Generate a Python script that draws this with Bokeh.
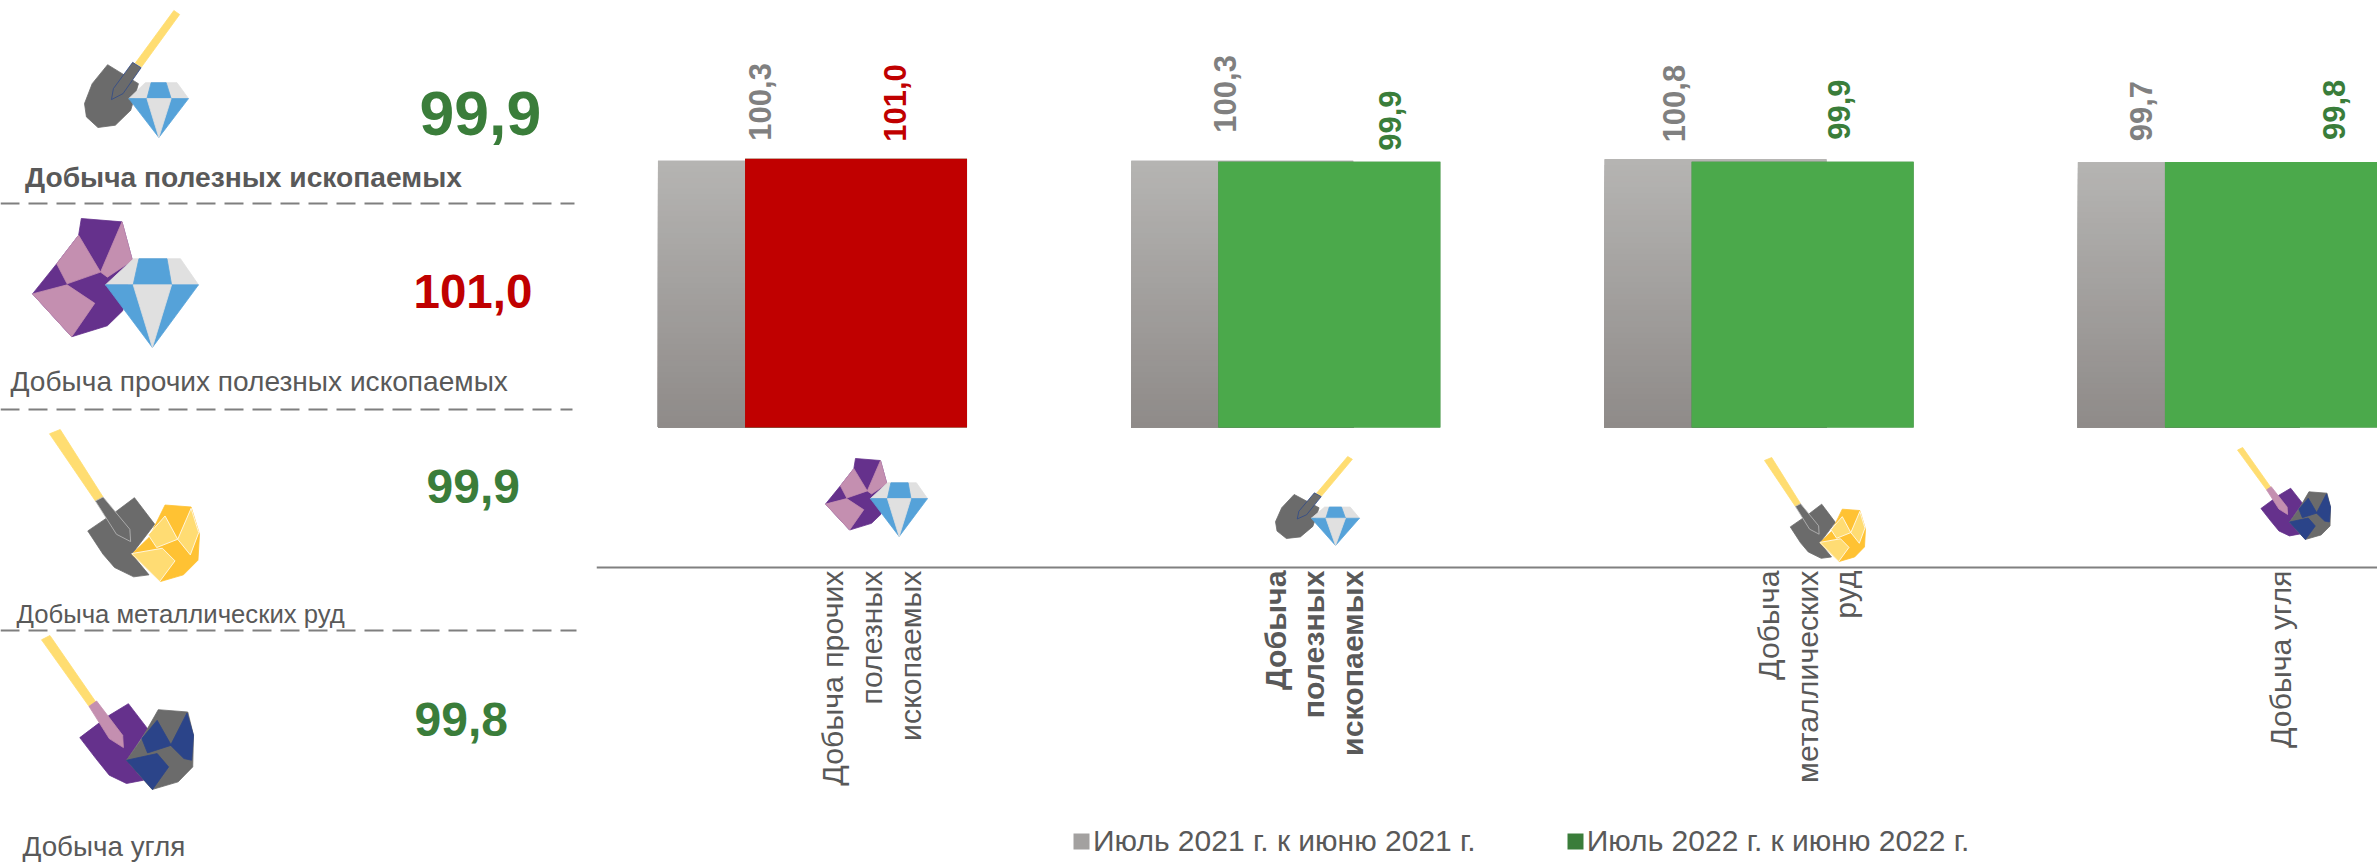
from bokeh.core.properties import value
from bokeh.embed import file_html
from bokeh.layouts import row
from bokeh.models import ColumnDataSource, FixedTicker, Legend, LegendItem, LinearAxis, Range1d
from bokeh.plotting import figure
from bokeh.resources import INLINE
import numpy as np

# ---------- data ----------
categories = ["Добыча прочих\nполезных\nископаемых", "Добыча\nполезных\nископаемых",
              "Добыча\nметаллических\nруд", "Добыча угля"]
july_2021 = [100.3, 100.3, 100.8, 99.7]
july_2022 = [101.0, 99.9, 99.9, 99.8]
series_names = ["Июль 2021 г. к июню 2021 г.", "Июль 2022 г. к июню 2022 г."]
panel_names = ["Добыча полезных ископаемых", "Добыча прочих полезных ископаемых",
               "Добыча металлических руд", "Добыча угля"]
panel_values = [99.9, 101.0, 99.9, 99.8]

# ---------- style ----------
FONT = value("Liberation Sans")
GREEN_BAR, GREEN_TXT, RED = "#4BA94B", "#3A7D3A", "#C00000"
GREY_TXT, DARK_TXT = "#808080", "#595959"
fmt = lambda v: f"{v:.1f}".replace(".", ",")
col = lambda v: RED if v > 100 else GREEN_TXT

W_PANEL, W_CHART, H = 596, 1781, 862
PX0, PX_STEP = 812.0, 473.3
UNIT = 2.66
BASE = 427.0

# ---------- icon shapes (drawn in picture pixels) ----------
HANDLE, STEEL, LBL, LGR = "#FFDD71", "#6B6B6B", "#55A2D9", "#E0E0E0"
PUR, PNK, GLD, LGD, NVY = "#65318C", "#C48FB0", "#FFC233", "#FFDC73", "#2B4489"

ICON_A = [
    (HANDLE, [(452, 30), (467, 42), (368, 200), (352, 188)], None),
    (STEEL, [(280, 193), (360, 250), (340, 330), (300, 375), (255, 382), (225, 350), (220, 310), (240, 250)], None),
    (STEEL, [(345, 186), (367, 202), (320, 280), (290, 298), (295, 265)], "#2F4A8A"),
    (LGR, [(378, 247), (460, 247), (490, 295), (335, 295)], None),
    (LBL, [(393, 247), (432, 247), (445, 295), (382, 295)], None),
    (LBL, [(335, 295), (490, 295), (413, 412)], None),
    (LGR, [(382, 295), (445, 295), (413, 412)], None),
]
ICON_B = [
    (PUR, [(212, 655), (318, 665), (345, 780), (320, 930), (280, 975), (187, 1008), (85, 880), (148, 790), (205, 705)], None),
    (PNK, [(318, 665), (345, 780), (280, 830), (262, 815)], None),
    (PNK, [(205, 705), (262, 815), (175, 850), (148, 790)], None),
    (PNK, [(85, 880), (175, 853), (247, 908), (187, 1008)], None),
    (LGR, [(348, 775), (470, 775), (517, 853), (275, 853)], None),
    (LBL, [(362, 775), (435, 775), (447, 853), (347, 853)], None),
    (LBL, [(275, 853), (517, 853), (397, 1040)], None),
    (LGR, [(347, 853), (447, 853), (397, 1040)], None),
]
ICON_C = [
    (HANDLE, [(130, 8), (158, -5), (270, 198), (250, 210)], None),
    (STEEL, [(352, 200), (405, 280), (345, 370), (390, 432), (350, 438), (300, 410), (270, 370), (230, 300), (300, 245)], None),
    (STEEL, [(250, 210), (270, 198), (340, 295), (342, 332), (305, 310)], "#BBBBBB"),
    (GLD, [(432, 222), (500, 228), (522, 310), (518, 388), (480, 432), (420, 452), (345, 370), (390, 320)], None),
    (LGD, [(432, 255), (465, 325), (410, 350), (388, 312)], "#FFFFFF"),
    (LGD, [(500, 232), (520, 305), (498, 372), (465, 325)], "#FFFFFF"),
    (LGD, [(345, 368), (425, 352), (458, 390), (418, 452)], "#FFFFFF"),
]
ICON_D = [
    (HANDLE, [(108, 628), (130, 615), (250, 815), (232, 828)], None),
    (PUR, [(335, 820), (385, 895), (330, 990), (375, 1050), (330, 1060), (285, 1035), (250, 985), (208, 922), (285, 855)], None),
    (PNK, [(232, 828), (252, 812), (320, 915), (322, 952), (285, 925)], None),
    (STEEL, [(413, 838), (490, 845), (505, 915), (503, 1010), (465, 1055), (397, 1078), (330, 990), (370, 925)], None),
    (NVY, [(410, 870), (447, 945), (385, 968), (370, 925)], None),
    (NVY, [(488, 848), (505, 915), (500, 990), (480, 985), (445, 945)], None),
    (NVY, [(330, 990), (410, 970), (440, 1010), (398, 1078)], None),
]


def place(parts, box):
    """Fit an icon into box = (left, top, right, bottom), in picture pixels."""
    ax = np.concatenate([[q[0] for q in p[1]] for p in parts])
    ay = np.concatenate([[q[1] for q in p[1]] for p in parts])
    sx = (box[2] - box[0]) / (ax.max() - ax.min())
    sy = (box[3] - box[1]) / (ay.max() - ay.min())
    return dict(
        xs=[[box[0] + (q[0] - ax.min()) * sx for q in p[1]] for p in parts],
        ys=[[box[1] + (q[1] - ay.min()) * sy for q in p[1]] for p in parts],
        fill=[p[0] for p in parts],
        line=[p[2] or p[0] for p in parts],
    )


def draw_icon(fig, parts, box, **ranges):
    fig.patches("xs", "ys", source=ColumnDataSource(place(parts, box)), fill_color="fill",
                line_color="line", line_width=0.8, **ranges)


# ---------- left panel ----------
panel = figure(width=W_PANEL, height=H, x_range=Range1d(0, 596), y_range=Range1d(862, 0),
               output_backend="svg", toolbar_location=None, min_border=0, outline_line_color=None)
panel.axis.visible = False
panel.grid.visible = False

for y_line, x_end in [(203, 574), (409, 572), (630, 576)]:
    panel.line([0, x_end], [y_line, y_line], line_color="#7F7F7F", line_width=2, line_dash="19 9")

draw_icon(panel, ICON_A, (84, 10, 188, 137))
draw_icon(panel, ICON_B, (32, 218, 198, 347))
draw_icon(panel, ICON_C, (49, 429, 199, 581))
draw_icon(panel, ICON_D, (41, 635, 193, 789))

panel.text(x=[419, 413, 426, 414], y=[113, 290.5, 486, 719],
           text=[fmt(v) for v in panel_values],
           text_color=[col(v) for v in panel_values],
           text_font=FONT, text_font_style="bold",
           text_font_size=["62.5px", "47.5px", "48px", "48px"], text_baseline="middle")
panel.text(x=[24.5, 10, 16, 22], y=[176, 381, 613, 846],
           text=panel_names, text_color=DARK_TXT, text_font=FONT,
           text_font_style=["bold", "normal", "normal", "normal"],
           text_font_size=["28.2px", "28.1px", "25.7px", "27.8px"], text_baseline="middle")

# ---------- chart ----------
chart = figure(width=W_CHART, height=H, output_backend="svg", toolbar_location=None,
               min_border=0, outline_line_color=None,
               x_range=Range1d((596 - PX0) / PX_STEP, (2377 - PX0) / PX_STEP),
               y_range=Range1d((BASE - 862) / UNIT, BASE / UNIT))
chart.extra_x_ranges = {"px": Range1d(596, 2377)}
chart.extra_y_ranges = {"py": Range1d(862, 0)}
chart.xaxis.visible = False
chart.yaxis.visible = False
chart.grid.visible = False

idx = np.arange(len(categories))
SHIFT, BAR_W = 0.092, 0.469
x_2021, x_2022 = idx - SHIFT, idx + SHIFT

# grey bars with a vertical gradient: painted from the tallest slice down
sw_2021 = chart.vbar(x=x_2021, bottom=0, top=july_2021, width=BAR_W, fill_color="#A3A1A0", line_color=None)
top_rgb, bottom_rgb = np.array([181, 180, 178]), np.array([143, 139, 137])
N = 48
for k in range(N):
    t = k / (N - 1)
    rgb = top_rgb + (bottom_rgb - top_rgb) * t
    chart.vbar(x=x_2021, bottom=0, top=[v * (1 - k / N) for v in july_2021], width=BAR_W,
               fill_color="#%02X%02X%02X" % tuple(int(round(c)) for c in rgb), line_color=None)

sw_2022 = chart.vbar(x=x_2022, bottom=0, top=july_2022, width=BAR_W, fill_color=GREEN_TXT, line_color=None)
chart.vbar(x=x_2022, bottom=0, top=july_2022, width=BAR_W, line_color=None,
           fill_color=[RED if v > 100 else GREEN_BAR for v in july_2022])

# value labels
chart.text(x=x_2021, y=july_2021, text=[fmt(v) for v in july_2021], angle=np.pi / 2,
           x_offset=[-9, -17, -42, -48], y_offset=[-20, -28, -17, -21],
           text_color=GREY_TXT, text_font=FONT, text_font_style="bold", text_font_size="31px",
           text_align="left", text_baseline="middle")
chart.text(x=x_2022, y=july_2022, text=[fmt(v) for v in july_2022], angle=np.pi / 2,
           x_offset=[39, 61, 36, 58], y_offset=[-17, -11, -22, -22],
           text_color=[col(v) for v in july_2022], text_font=FONT, text_font_style="bold",
           text_font_size="31px", text_align="left", text_baseline="middle")

# axis line
axis = LinearAxis(fixed_location=(BASE - 566.7) / UNIT, ticker=FixedTicker(ticks=list(idx)),
                  axis_line_color="#808080", axis_line_width=2, major_tick_line_color=None,
                  minor_tick_line_color=None, major_label_text_color=None)
chart.add_layout(axis, "below")

# category labels
chart.text(x=idx, y=[570] * 4, y_range_name="py", text=categories, angle=np.pi / 2,
           x_offset=[59, 28, 48, 48],
           text_color=DARK_TXT, text_font=FONT, text_font_size="30.3px",
           text_font_style=["normal", "bold", "normal", "normal"],
           text_align="right", text_baseline="middle", text_line_height=1.17)

# small icons above the axis
px = dict(x_range_name="px", y_range_name="py")
draw_icon(chart, ICON_B, (825, 458, 927, 536), **px)
draw_icon(chart, ICON_A, (1275, 456, 1359, 545), **px)
draw_icon(chart, ICON_C, (1764, 457, 1865, 561), **px)
draw_icon(chart, ICON_D, (2237, 447, 2330, 539), **px)

# legend
legend = Legend(items=[LegendItem(label=series_names[0], renderers=[sw_2021]),
                       LegendItem(label=series_names[1], renderers=[sw_2022])],
                orientation="horizontal", location=(475, 4), margin=0, padding=0, spacing=89,
                glyph_width=20, glyph_height=20, label_standoff=2, border_line_color=None,
                background_fill_color=None, label_text_font="Liberation Sans",
                label_text_font_size="30px", label_text_color=DARK_TXT)
chart.add_layout(legend)

page = row(panel, chart, spacing=0)
open("out.html", "w").write(file_html(page, INLINE))
